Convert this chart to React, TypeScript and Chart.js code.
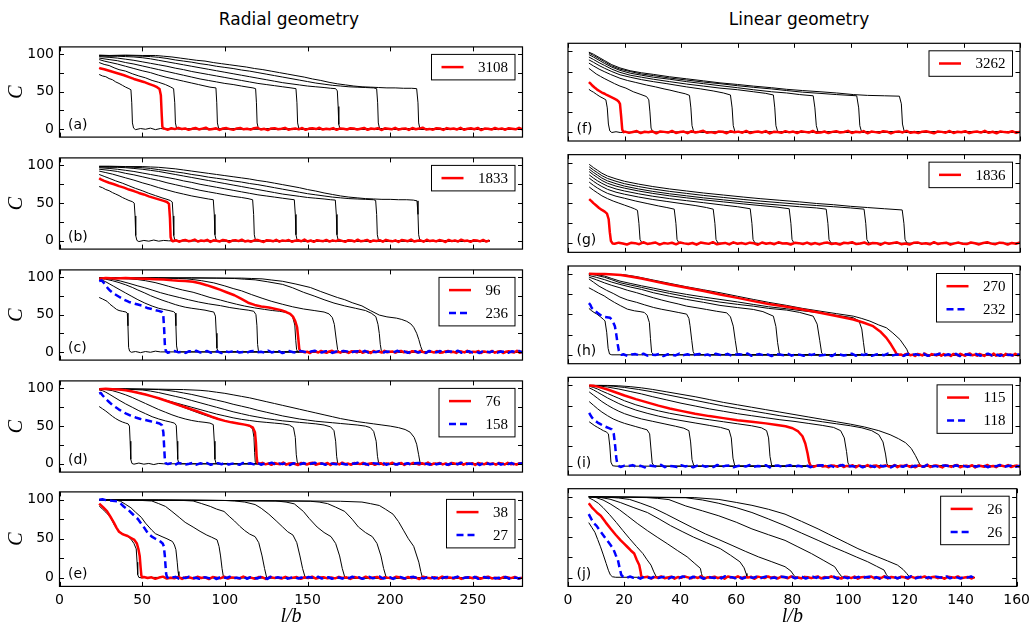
import React, { useEffect, useRef } from "react";
import { Chart, registerables } from "chart.js";

Chart.register(...registerables);
Chart.defaults.font.family = "DejaVu Sans";

type Pt = [number, number];
interface Tail { from: number; to: number; values: number[] }

// ---------- Baseline jitter after the front has passed ----------
const noise01 = [0.4,-1.1,0.9,-0.3,1.4,-0.2,0.6,-1.3,0.1,1.2,-0.7,0.4,1.6,-0.9,0,0.8,-1.4,0.5,1.1,-0.3,-1.2,0.7,1.3,-0.6,0.2,-1,0.9,1.5,-0.8,0.1,-1.5,0.6,1,-0.4,0.3,1.4,-1.1,0,0.7,-0.6,1.2,-1.3,0.4,0.9,-0.2,1.5,-0.9,0.1,-0.5,1.1,-1.2,0.6,0.2,-0.8,0.9];
const noise02 = [-0.6,0.8,-1.2,0.3,1.1,-0.5,0.2,1.6,-1,0.4,-0.3,1.3,-1.4,0.7,0,-0.9,1.2,0.5,-1.6,0.3,0.9,-0.4,1.5,-0.8,0.1,-1.2,0.6,1,-0.2,-1.5,0.8,0.3,-0.7,1.4,-1.1,0.5,-0.1,1.1,-1.3,0.2,0.7,-0.6,1.6,-0.9,0.4,-1.4,0.9,0,-0.5,1.2,-1,0.6];
const noise03 = [0.9,-0.4,0.2,-1.5,1,0.5,-0.8,1.3,-0.1,-1.2,0.7,1.6,-0.6,0.3,-1,1.1,0,-1.4,0.8,0.4,-0.7,1.5,-1.1,0.2,0.6,-1.6,1.2,-0.3,0.5,-0.9,1.4,-0.5,0.1];
const noise04 = [-1.2,0.5,1.1,-0.6,0.3,-1.4,0.9,0.2,1.5,-0.8,-0.1,1.2,-1.1,0.6,0.4,-1.6,1,-0.3,0.7,1.4,-0.9,0,-1.3,0.8,1.3,-0.5,0.2,-1,1.6,-0.7,0.4,0.9,-1.5,0.1,1.1,-0.4,-0.8,1.2,0.3,-1.2,0.6,1.5,-0.2,-0.9,1,0.5,-1.4,0.7,-0.3,1.3];
const noise05 = [0.2,1.3,-0.7,0.5,-1.4,1,0.1,-0.6,1.6,-1.1,0.4,0.8,-0.2,-1.5,1.2,0.3,-0.9,0.7,1.4,-1.3,0,0.6,-0.4,1.1,-1.6,0.9,0.2,-0.8,1.5,-0.5,0.3,-1.2,1,0.5,-0.3,1.3,-1,0.1,0.8,-1.4];
const noise06 = [-0.3,0.7,-1.5,1.2,0.4,-0.8,0.1,1.4,-1.1,0.6,-0.2,1,-1.3,0.3,0.9,-0.6,1.6,-1,0.2,0.5,-1.4,1.1,-0.1,0.8,-0.7,1.3,-1.2,0.4,0,1.5,-0.9,0.6,-0.4,1.2,-1.6,0.7,0.3,-0.5,1,-1.1,0.2,1.4,-0.8,0.5,-1.3,0.9,0.1,-0.6,1.3,-0.2];
const noise07 = [1.1,-0.2,0.6,-1.3,0.3,1.5,-0.9,0.1,-0.5,1.2,-1.4,0.8,0.4,-1,1.3,-0.3,0.7,-1.6,1,0.2,-0.7,1.4,-1.1,0.5,0,-0.8,1.6,-0.4,0.3,-1.2,0.9,0.6,-1.5,1.1,-0.1,0.4,-0.9,1.3,-0.6,0.2,1,-1.3,0.7,-0.2,1.5,-1,0.3,0.8,-0.7,0.5];
const noise08 = [-0.8,0.3,1.2,-1.1,0.6,-0.4,1.5,-0.2,0.1,-1.3,0.9,0.5,-0.7,1.1,-1.5,0.4,0.8,-0.3,1.3,-1,0.2,-0.6,1.6,-1.2,0.7,0,-0.9,1,0.3,-1.4,1.2,-0.5,0.6,-0.1,1.4,-1.1,0.2,0.9,-0.8,0.4,-1.6,1.1,0.5,-0.3,1.3,-0.9,0,0.7,-1.2,0.6];
const noise09 = [0.6,-0.9,0.2,1.3,-1.2,0.5,-0.1,1,-1.5,0.8,0.3,-0.6,1.4,-1,0.1,0.7,-1.3,1.2,-0.4,0.4,1.6,-0.8,0,-1.1,0.9,0.5,-1.4,1.1,-0.2,0.6,-0.7,1.5,-1.2,0.2,0.8,-0.5,1.3,-1.6,0.4,0.1,-0.9,1.2,-0.3,0.7,-1.1,1,0.3,-0.6,1.4,-0.8];
const noise10 = [-0.4,1,-0.1,-1.3,0.8,0.4,-0.9,1.5,-0.6,0.2,1.2,-1.4,0.5,-0.2,0.9,-1.1,1.3,0.1,-0.7,0.6,-1.5,1.1,0.3,-0.5,1.6,-1,0,0.7,-1.2,1.4,-0.3,0.5,-0.8,1,0.2,-1.6,1.2,-0.4,0.6,-0.9,1.5,-0.1,0.3,-1.3,0.8,0.4,-0.7,1.1,-1,0.5];
const noise11 = [0.5,-1.1,0.8,1.3,-0.6,0.2,-1.4,1,0.4,-0.8,1.5,-0.3,-1.2,0.9,0.1,-0.7,1.2,-1];
const noise12 = [0.7,-1.3,0.4,0.9,-0.5,1.4,-1,0.1,-0.3,1.1,-1.6,0.6,0.2,-0.8,1.5,-0.4,0.8,-1.2,0.3,1,-0.9,0.5,-1.4,1.3,0,-0.6,1.2,-1.1,0.4,0.7,-0.2,1.6,-1.3,0.1,0.9,-0.7,0.5,-1.5,1.1,0.3,-0.4,1.4,-1,0.6,0.2,-1.2,0.8,-0.1,1.3,-0.9];
const noise13 = [-0.9,0.6,1.2,-0.4,0.1,-1.3,0.9,0.4,-0.7,1.5,-1,0.3,-0.2,1.1,-1.4,0.7,0,-0.6,1.3,-1.1,0.5,0.9,-1.5,0.2,1,-0.3,-0.8,1.4,-1.2,0.6];
const noise14 = [-1,0.6,0.1,1.3,-0.7,0.4,-1.5,1,0.3,-0.4,1.6,-1.2,0.5,0,-0.9,1.2,-0.3,0.8,-1.4,0.6,1.1,-0.6,0.2,-1.1,1.5,-0.8,0.4,0.9,-1.3,0.1,0.7,-0.5,1.4,-1,0.3,-0.2,1.2,-1.6,0.6,0.9,-0.7,0.1,1.3,-1.1,0.5,-0.4,1,-1.3,0.2,0.8];
const noise15 = [0.3,0.9,-1.2,0.5,-0.2,1.4,-0.9,0.1,1.1,-1.5,0.6,-0.4,1.3,0.2,-1,0.8,-0.6,1.6,-1.3,0.4,0,1,-0.8,0.5,-1.4,1.2,0.3,-0.5,1.5,-1.1,0.7,-0.1,0.9,-1.6,1.1,0.2,-0.7,1.3,-0.3,0.6,-1.2,1,0.4,-0.9,1.4,-0.5,0.1,-1.1,0.8,0.3];
const noise16 = [-0.7,1.2,-0.3,0.6,-1.4,0.9,0.2,-1,1.5,-0.5,0.3,1.1,-1.3,0.7,-0.1,-0.8,1.4,0.4,-1.2,1,-0.4,0.6,-1.6,1.3,0.1,-0.6,0.8,-1.1,1.6,-0.2,0.5,-0.9,1.2,-1.4,0.3,0.7,-0.5,1,-1.2,0.4,1.5,-0.8,0,-1.3,0.9,0.6,-0.4,1.1,-1,0.2];

// ---------- Radial geometry, panel (a) ----------
const radialA_black: Pt[][] = [
  [[24,73],[26,71],[28,70],[30,67.5],[32,66],[34,63],[36,61],[38,58.5],[40,56],[42,54],[43.2,52.5],[43.7,35],[44.1,8],[44.8,1],[46,-1],[49,0.5],[52,-0.5],[55,1],[58,-1],[61,0.5],[64,0],[280,0]],
  [[24,89],[27,86.5],[30,85],[33,82],[36,79.5],[40,77.5],[44,74],[48,71],[52,68.5],[56,65],[60,62.5],[64,59.5],[67,56.5],[69,54],[69.7,35],[70.1,8],[70.8,1],[72,0],[280,0]],
  [[24,93],[27,91],[30,89.5],[35,87],[40,84],[45,81],[50,78],[55,75.5],[60,72],[65,69],[70,66.5],[75,64],[80,61.5],[84,59.5],[88,57.5],[91,56],[94.6,55],[95.1,35],[95.5,8],[96.2,1],[97.5,0],[280,0]],
  [[24,95],[30,93],[35,91.5],[40,89],[45,87],[50,84.5],[55,82],[60,79.5],[65,77],[70,74.5],[75,72],[80,69.5],[85,67],[90,65],[95,63],[100,61],[105,59.5],[110,57.5],[114,56],[117,55],[118.6,54],[119.1,35],[119.5,8],[120.2,1],[121.5,0],[280,0]],
  [[24,97],[30,96],[35,95],[40,93.5],[45,92],[50,90],[55,88],[60,86],[65,84],[70,81.5],[75,79.5],[80,77],[85,75],[90,73],[95,71],[100,69],[105,67],[110,65],[115,63],[120,61],[125,59.5],[130,58],[135,56.5],[140,55],[143,54],[143.6,35],[144,8],[144.7,1],[146,0],[280,0]],
  [[24,98],[30,97.5],[35,97.5],[40,97],[45,96.5],[50,95.5],[55,94],[60,92],[65,90],[70,88],[75,86],[80,84],[85,82],[90,80],[95,78],[100,76],[105,74],[110,72],[115,70],[120,68],[125,66],[130,64],[135,62],[140,60.5],[145,59],[150,57.5],[155,56.5],[160,55.5],[164,54.5],[167,54],[168,51],[168.5,30],[168.9,6],[169.6,0.5],[171,0],[280,0]],
  [[24,98.5],[30,98],[40,98.5],[50,97.5],[55,97],[60,96],[65,94.5],[70,92.5],[75,91],[80,89.5],[85,87.5],[90,86],[95,84],[100,82.5],[105,81],[110,79],[115,77.5],[120,75.5],[125,73.5],[130,71.5],[135,69.5],[140,67.5],[145,65.5],[150,63.5],[155,61.5],[160,60],[165,58.5],[170,57.5],[175,56.5],[180,56],[185,55.5],[190,55],[191.8,54],[192.4,35],[192.8,8],[193.5,1],[195,0],[280,0]],
  [[24,99],[30,98.5],[40,99],[50,98.5],[58,98.5],[63,97.5],[68,96.5],[73,95],[78,93.5],[83,92],[88,91],[93,89],[98,87.5],[103,86],[108,84.5],[113,83],[118,81],[123,79.5],[128,77.5],[133,75.5],[138,73.5],[143,71.5],[148,69.5],[153,67],[158,65],[163,62.5],[168,60.5],[173,59],[178,57.5],[183,56.5],[188,56],[193,55.5],[198,55],[203,55],[208,54.5],[213,54.5],[216,54],[216.8,35],[217.2,8],[217.9,1],[219,0],[280,0]],
];
const radialA_red: Pt[] = [[24,82],[25,81],[27,80],[30,78],[33,76],[36,74],[39,72],[42,69.5],[45,67],[48,65],[51,63],[54,60.5],[57,58],[59,56],[60.5,53.5],[61.3,45],[61.8,20],[62.2,3],[62.8,0.5]];
const radialA_redTail: Tail = { from: 63.5, to: 280, values: [...noise01, ...noise09] };

// ---------- Radial geometry, panel (b) ----------
const radialB_black: Pt[][] = [
  [[24,72],[26,70.5],[28,68],[30,66.5],[32,64],[34,62],[36,60],[38,57.5],[40,55.5],[42,53.5],[44,52],[45.2,50],[45.7,33],[46.1,7],[46.8,0.5],[48,-1],[51,0.5],[54,-0.5],[57,1],[60,-0.5],[63,0.5],[66,0],[260,0]],
  [[24,88],[27,85.5],[30,83],[34,79.5],[38,76.5],[42,73],[46,69.5],[50,66.5],[54,63],[58,60],[62,57],[65,55],[67,53.5],[68.2,51.5],[68.7,33],[69.1,7],[69.8,0.5],[71,0],[260,0]],
  [[24,92.5],[28,90.5],[32,88.5],[36,86],[40,83.5],[45,80.5],[50,77],[55,74],[60,70.5],[65,67.5],[70,64.5],[75,62],[80,59.5],[85,57.5],[90,55.5],[93,54.5],[93.6,35],[94,8],[94.7,1],[96,0],[260,0]],
  [[24,95],[30,93.5],[35,92],[40,89.5],[45,87.5],[50,85],[55,82.5],[60,80],[65,77],[70,74.5],[75,72],[80,69.5],[85,67],[90,65],[95,63],[100,61],[105,59],[110,57.5],[114,56],[116.8,54.5],[117.4,35],[117.8,8],[118.5,1],[120,0],[260,0]],
  [[24,97],[30,96],[35,95],[40,93.5],[45,92],[50,90],[55,88],[60,86],[65,84],[70,82],[75,79.5],[80,77.5],[85,75],[90,73],[95,71],[100,69],[105,67],[110,65],[115,63],[120,61],[125,59.5],[130,58],[135,56.5],[140,55],[142,54.5],[142.6,35],[143,8],[143.7,1],[145,0],[260,0]],
  [[24,98],[30,97.5],[35,97.5],[40,97],[45,96],[50,95],[55,93.5],[60,92],[65,90],[70,88],[75,86],[80,84],[85,82],[90,80],[95,78],[100,76],[105,74],[110,72],[115,70],[120,68],[125,66],[130,64],[135,62],[140,60.5],[145,59],[150,57.5],[155,56.5],[160,55.5],[164,54.5],[166.8,54],[167.4,35],[167.8,8],[168.5,1],[170,0],[260,0]],
  [[24,98.5],[30,98.5],[40,98],[45,97.5],[50,97],[55,96],[60,94.5],[65,93],[70,91.5],[75,90],[80,88],[85,86.5],[90,84.5],[95,83],[100,81.5],[105,79.5],[110,78],[115,76],[120,74.5],[125,72.5],[130,70.5],[135,68.5],[140,66.5],[145,64.5],[150,62.5],[155,61],[160,59.5],[165,58],[170,57],[175,56],[180,55.5],[185,55],[190,54.5],[191.2,53.5],[191.8,35],[192.2,8],[192.9,1],[194,0],[260,0]],
  [[24,99],[30,99],[40,98.5],[50,98.5],[55,98],[60,97.5],[65,96.5],[70,95.5],[75,94],[80,92.5],[85,91],[90,89.5],[95,88],[100,86.5],[105,85],[110,83.5],[115,82],[120,80],[125,78.5],[130,76.5],[135,74.5],[140,72.5],[145,70.5],[150,68],[155,66],[160,63.5],[165,61.5],[170,59.5],[175,58],[180,57],[185,56],[190,55.5],[195,55],[200,55],[205,54.5],[210,54.5],[214,54],[216.2,53],[216.8,35],[217.2,8],[217.9,1],[219,0],[260,0]],
];
const radialB_red: Pt[] = [[24,83],[25,81.5],[27,79.5],[30,77],[33,75],[36,72.5],[39,70.5],[42,68],[45,66],[48,63.5],[51,61.5],[54,59],[57,57],[60,55],[63,53],[65,51.5],[66.2,49],[66.8,30],[67.2,5],[67.8,0.5]];
const radialB_redTail: Tail = { from: 68.5, to: 260, values: [...noise02, ...noise10] };

// ---------- Radial geometry, panel (c) ----------
const radialC_black: Pt[][] = [
  [[24,73],[26,71],[28.7,68],[30.5,64],[32.8,60],[34.5,57],[36,55.5],[38,54.5],[40.2,53.5],[41,52],[41.4,35],[41.8,6],[42.4,1],[43.5,-0.5],[46,0.5],[49,-1],[52,0.5],[55,-0.5],[58,1],[61,0],[280,0]],
  [[24,97.5],[26,96],[28,94],[30,91.5],[32.8,88],[36,84],[40,79],[43.3,75],[47.4,70],[51.6,65.5],[56,61.5],[60,58.5],[63,57],[66.2,55.5],[69,54],[70,52],[70.4,35],[70.8,8],[71.4,1],[72.5,0],[280,0]],
  [[24,98.5],[28,97.5],[32,95.5],[36,93],[40,90],[44,86.5],[47.4,83],[51.6,79],[55,75.5],[57.8,73],[62,69.5],[66,66.5],[70,63.5],[72.4,62],[76,60],[80,58.5],[84.9,57],[88,56],[91,54.5],[93.3,53.5],[94.3,48],[94.8,25],[95.2,5],[95.9,0.5],[97,0],[280,0]],
  [[24,99],[28,98.5],[32.8,97],[37,95],[42,92],[47.4,88.5],[51.6,86],[56,83],[61,79.5],[66,76.5],[72.4,73],[78,70],[84,67],[90,64.5],[97.4,62],[103,59.5],[109,57.5],[114.1,56],[117.5,54.5],[118.8,50],[119.4,35],[119.8,10],[120.3,1.5],[121.2,0],[280,0]],
  [[24,99],[30,99],[36,98.5],[42,98],[47.4,97],[52,95.5],[57.8,93],[62,90.5],[66,88],[70,85.5],[74.5,83],[80.8,80],[86,76.5],[91,73],[97.4,69.5],[101.6,67],[107,64],[112,61.5],[118,59],[124,57],[128.7,55.5],[133,54.5],[137,53],[139.1,51],[141,47],[142.3,36],[142.9,15],[143.4,3],[144.2,0],[280,0]],
  [[24,99],[35,99.5],[45,99],[55,99.5],[65,99],[72,98.5],[77,98],[80.8,97],[86,95.5],[93.3,92.6],[100,88.5],[105,85],[110,82],[116,77],[122.5,72],[128,68],[135,63.8],[141,60.5],[147.5,57.6],[154,55.5],[160,53.5],[163,51],[165,46],[166.2,37],[167.4,16],[168.2,3],[169,0.5],[170,0],[280,0]],
  [[24,99],[40,99.5],[60,99],[80,99.5],[95,99],[105.8,98.5],[112,97.5],[118.3,96.7],[126,94],[135,90.5],[141,86],[147.5,80],[154,75],[160,70],[166,65.5],[172.5,61.7],[179,58.5],[185,55.5],[188.5,52],[191.3,47.3],[192.6,37],[193.4,24.7],[194,10],[194.6,2],[195.5,0],[280,0]],
  [[24,99.5],[40,99],[60,99.5],[80,99],[100,99],[110,99],[116,98.5],[122.5,98],[128,96.5],[135,94.7],[143,91],[151.7,86.4],[158,81],[164.2,76],[168,73],[172.5,70],[177,66],[182.9,61.7],[188,55.5],[193.4,49.4],[198,47],[203.8,45.3],[207,43.5],[210,41],[212.5,37.5],[214.2,33],[216,25],[217.3,16.5],[218.5,7],[219.4,2],[220.3,0],[280,0]],
];
const radialC_red: Pt[] = [[24,98],[28,99],[34,98.5],[40,99],[46,98.5],[52,98],[58,97.5],[63,97],[68.2,96],[72,95.5],[76,95],[80.8,94],[85,92],[89,89.5],[93.3,86.4],[97,83.5],[101,80],[105.8,76],[110,71],[114.1,66],[118,63],[122,61],[126.6,59.5],[130,58],[134,56],[137.1,53.5],[139.5,51],[141.2,47.3],[142.6,41],[143.7,33],[144.4,18],[145,4],[145.6,0.5]];
const radialC_redTail: Tail = { from: 146.5, to: 280, values: [...noise03, ...noise11, ...noise13] };
const radialC_blue: Pt[] = [[24,95],[25.5,96],[27,92],[29,86],[30.7,82],[33,78],[36,74],[39,70],[42,67],[45,65],[47.4,63.5],[50,62],[53,59],[55.8,57.6],[58,56],[60,55],[62,53.5],[62.8,48],[63.3,30],[63.7,10],[64.3,1],[65,0]];
const radialC_blueTail: Tail = { from: 65.5, to: 280, values: [...noise04, ...noise12] };

// ---------- Radial geometry, panel (d) ----------
const radialD_black: Pt[][] = [
  [[24,76],[26,73],[28,70],[30,66.5],[32,63],[34,60],[36,57.5],[38,55.5],[40,54],[41.5,53],[42.3,50],[42.7,30],[43.1,6],[43.8,0.5],[45,-0.5],[48,1],[51,-0.5],[54,0.5],[57,-1],[60,0.5],[63,0],[280,0]],
  [[24,98],[26,97],[28,95],[30,92.5],[33,88.5],[36,84.5],[40,79.5],[44,75],[48,70.5],[52,66.5],[56,62.5],[60,59.5],[64,57],[67,55.5],[69.5,54],[70.6,51],[71.1,30],[71.5,6],[72.2,0.5],[73.5,0],[280,0]],
  [[24,99],[28,98.5],[32,97],[36,94.5],[40,91.5],[44,88],[48,84],[52,80],[56,76],[60,72],[64,68.5],[68,65],[72,62],[76,59.5],[80,57.5],[84,56],[88,55],[91,54],[93,52],[93.6,30],[94,6],[94.7,0.5],[96,0],[280,0]],
  [[24,99],[30,99],[36,98.5],[42,97],[48,94.5],[54,91],[60,87],[66,82.5],[72,77.5],[78,72.5],[84,67.5],[90,63],[96,59],[102,56],[108,53.5],[112,52],[115,50],[116.8,46],[117.6,35],[118,15],[118.4,2],[119.2,0],[280,0]],
  [[24,99],[30,99],[36,98.5],[40,97.5],[45,95.5],[50,93],[55,90],[60,87],[65,84],[70,81],[75,78],[80,75],[85,72],[90,69],[95,66],[100,63.5],[105,61],[110,59],[115,57.5],[120,56],[125,55],[130,54],[135,53],[139,51.5],[141.5,48],[142.6,35],[143.2,12],[143.8,2],[145,0],[280,0]],
  [[24,99],[30,99.5],[40,99],[50,98],[55,96.5],[60,94.5],[65,92],[70,89.5],[75,87],[80,84],[85,81],[90,78],[95,75],[100,72],[105,69],[110,66.5],[115,64],[120,62],[125,60],[130,58.5],[135,57],[140,56],[145,55],[150,54],[155,53],[160,51.5],[164,49],[166,44],[167,30],[167.6,10],[168.2,1],[169.5,0],[280,0]],
  [[24,99],[40,99.5],[50,99],[60,98.5],[65,97.5],[70,96],[75,94],[80,92],[85,89.5],[90,87],[95,84.5],[100,82],[105,79],[110,76.5],[115,74],[120,71],[125,68.5],[130,66],[135,63.5],[140,61.5],[145,59.5],[150,58],[155,56.5],[160,55.5],[165,54.5],[170,53.5],[175,52.5],[180,51.5],[185,50],[188,48],[190,43],[191.5,30],[192.3,10],[193,1],[194.5,0],[280,0]],
  [[24,99.5],[40,99.5],[60,99],[75,98.5],[85,97.5],[90,96.5],[95,95],[100,93.5],[105,91.5],[110,89.5],[115,87.5],[120,85],[125,82.5],[130,80],[135,77.5],[140,75],[145,72.5],[150,70],[155,67.5],[160,65],[165,62.5],[170,60],[175,58],[180,56],[185,54.5],[190,53],[195,51.5],[200,50],[205,48],[209,45.5],[212,42],[214.5,35],[216,26],[217.2,12],[218,2],[219,0],[280,0]],
];
const radialD_red: Pt[] = [[24,99],[28,99.5],[32,99],[36,98.5],[40,97.5],[44,96],[48,94],[52,92],[56,89.5],[60,87],[64,84],[68,81],[72,78],[76,75],[80,72],[84,69],[88,66],[92,62.5],[96,59.5],[100,57],[104,55],[108,53.5],[112,52],[115,50.5],[117,48],[118.2,42],[118.8,28],[119.2,10],[119.6,2],[120.3,0]];
const radialD_redTail: Tail = { from: 121, to: 280, values: [...noise05, ...noise15] };
const radialD_blue: Pt[] = [[24,93],[25,94],[26,91],[28,86],[30,82],[32,78],[34,75],[36,72],[38,69.5],[40,67],[43,64],[46,61.5],[49,59.5],[52,58],[55,56.5],[58,55],[60.5,53.5],[62,51],[62.8,42],[63.3,22],[63.7,6],[64.3,0.5],[65,0]];
const radialD_blueTail: Tail = { from: 65.5, to: 280, values: [...noise06, ...noise14] };

// ---------- Radial geometry, panel (e) ----------
const radialE_black: Pt[][] = [
  [[24,92],[26,88],[28,84],[30.7,78],[32.8,69],[34.9,62],[37,58],[39.1,55.5],[41,53.5],[43.2,49.5],[45,44],[46.4,37],[46.9,20],[47.3,4],[48,0.5],[49.5,0],[52,0.5],[280,0]],
  [[24,100],[28,99.5],[32,99.5],[35,99],[37,97.9],[40,94],[43.2,89.7],[46,84],[49.5,77.4],[52,70],[55.8,61],[58,56.5],[62,52.7],[65,50],[68.3,46.5],[69.5,42],[70.4,36],[71.2,20],[71.7,8],[72.2,2],[73,0],[280,0]],
  [[24,100],[30,99.5],[40,99.5],[50,99],[55.8,98.4],[60,95],[64.1,91.4],[68,85],[72.4,77.4],[76,71],[80.8,65],[85,59.5],[89.1,54.7],[92,52],[95.3,48.6],[96.5,40],[97.4,28],[98.3,12],[99.1,1.5],[100,0],[280,0]],
  [[24,100],[40,99.5],[60,99.5],[75,99],[80.8,98.4],[86,95],[91.2,91.4],[95,88],[99.5,85],[103,78],[105.8,72.8],[109,66],[112,60.5],[115,56],[118.3,52.7],[120.5,45],[122.5,28],[124,12],[125.2,1],[126,0],[280,0]],
  [[24,100],[50,99.5],[80,99.5],[100,99],[105.8,98.4],[112,97],[118.3,93.8],[122,89],[126.6,81.5],[131,73],[135,65],[138,59],[141.2,54.7],[143.5,45],[145.4,28],[147,12],[148.5,1],[149.5,0],[280,0]],
  [[24,100],[60,99.5],[100,99],[120,98.5],[130.8,98.4],[137,97],[142,94.7],[147.5,85],[151,76],[155.8,65],[160,58],[164.2,52.7],[167,44],[169.4,28],[171,12],[172.5,1],[173.5,0],[280,0]],
  [[24,99.5],[60,99],[100,99],[130,98.5],[151.7,98],[157,97],[162.1,95],[167,90.5],[172.5,85],[177,75],[180.8,65],[185,58],[189.2,52.7],[192,44],[194.4,28],[196,12],[197.5,1],[198.5,0],[280,0]],
  [[24,99.5],[60,99.5],[100,99],[140,98.5],[170,98],[182.9,97],[188,95],[193.4,92.6],[197,88],[201.7,81.5],[205,72],[208,61],[211,50],[214.2,40.3],[217.3,20],[218.5,8],[219.4,1],[220.5,0],[280,0]],
];
const radialE_red: Pt[] = [[24,95],[25,93],[26.5,90],[28.7,85.5],[30.7,78.5],[32.8,71],[34.5,64],[36,59],[38,56],[41.2,53.5],[43.3,51],[45.3,48.5],[46.8,44],[47.8,36],[48.5,28],[49.1,12],[49.5,3],[50,0.5]];
const radialE_redTail: Tail = { from: 51, to: 280, values: [...noise07, ...noise16] };
const radialE_blue: Pt[] = [[24,100],[26,100.5],[28,99.5],[30,99],[32,98.5],[34.9,97.9],[37,95],[39,91],[41.2,87.7],[44,82],[47.4,75.3],[49.5,69],[51.6,63],[53.5,57],[55.8,52.7],[58,50],[61,46.5],[62.4,44],[63.1,40.3],[63.7,28],[64.1,16],[64.5,5],[65,1],[65.6,0]];
const radialE_blueTail: Tail = { from: 66, to: 280, values: [...noise08, ...noise01] };

// ---------- Linear geometry, panel (f) ----------
const linearF_black: Pt[][] = [
  [[7.4,53],[8.2,51],[9,49.5],[10,47],[11.3,44],[12.4,42],[13.4,40],[13.9,30],[14.3,10],[14.8,1.5],[15.5,-0.5],[17,0.5],[18.5,-0.5],[20,0],[160,0]],
  [[7.4,79],[8.5,76],[10,72],[11.5,69],[12.8,66.5],[14.5,63.5],[16.5,60],[18.4,57],[20.5,54.5],[23.1,50],[25.5,47],[27.8,44],[28.6,40],[29,25],[29.4,5],[30,0.5],[31,0],[160,0]],
  [[7.4,85.5],[9,82],[11,78],[12.8,75],[15,71.5],[18.4,66.7],[21,64],[24,61.5],[27.8,58.3],[31,56],[34,53.5],[36.1,52],[39,49.5],[41.5,47.5],[43,45.5],[43.5,30],[43.9,8],[44.5,0.5],[45.5,0],[160,0]],
  [[7.4,89.5],[9,86.5],[11,82.5],[13,79],[15.5,75],[18.4,71],[22,68],[26,65],[30.2,62.5],[35,60],[42,56],[47,53.5],[51.4,51],[55,48.5],[57.5,46],[58.1,30],[58.5,8],[59.1,0.5],[60,0],[160,0]],
  [[7.4,93],[9,90],[11,86],[13,82.5],[15.5,78],[18.4,74],[22,70.5],[26,68],[30.2,65.5],[36,62.5],[42,59.5],[48,57],[53.8,54.5],[60,52.5],[65.6,50],[70,48],[72.7,46],[73.2,30],[73.6,8],[74.2,0.5],[75,0],[160,0]],
  [[7.4,96],[9,93],[11,89],[13,85],[15.5,80.5],[18.4,76.5],[22,73],[26,70.5],[30.2,68],[36,65.5],[42,62.5],[48,60],[53.8,57.5],[60,55],[65.6,52.5],[72,50],[77.4,48.5],[82,46.5],[86.8,45],[87.4,30],[87.9,8],[88.5,0.5],[89.5,0],[160,0]],
  [[7.4,98],[9,95],[11,91],[13,87],[15.5,82],[18.4,78],[22,75],[26,72],[30.2,70],[36,67],[42,64.5],[48,62],[53.8,60],[60,57.5],[65.6,55.5],[72,53.5],[77.4,51.5],[83,49.5],[89.2,48],[95,46.5],[102.2,45],[102.9,30],[103.3,8],[103.9,0.5],[105,0],[160,0]],
  [[7.4,99],[9,96.5],[11,92.5],[13,88.5],[15.5,83.5],[18.4,79.5],[22,76],[26,73.5],[30.2,71.5],[36,68.5],[42,66],[48,63.5],[53.8,61],[60,59],[65.6,57],[72,55],[77.4,53],[83,51.5],[89.2,50],[95,48.5],[101,46.5],[106,45.5],[112,45],[117.3,44.5],[118,35],[118.4,10],[119,1],[120,0],[160,0]],
];
const linearF_red: Pt[] = [[7.4,62],[8,60],[8.5,58],[9.3,55.5],[10.2,53],[11.1,51],[12,49],[13,47.5],[13.7,46],[14.6,44.5],[15.5,43],[16.4,41.5],[17.2,40],[17.9,38],[18.4,35],[18.8,20],[19.2,3],[19.7,0]];
const linearF_redTail: Tail = { from: 20.2, to: 160, values: [...noise09, ...noise02] };

// ---------- Linear geometry, panel (g) ----------
const linearG_black: Pt[][] = [
  [[7.5,70],[9,66],[10.5,62.5],[12,59],[14,55.5],[16,52.5],[18,50],[20,47.5],[22,45],[23.5,43],[24.6,41],[25.1,25],[25.5,5],[26.2,0.5],[27.5,0],[160,0]],
  [[7.5,76],[9,72],[10.5,68.5],[12,65.5],[14,62],[17,58.5],[20,56],[24,52.5],[28,49.5],[32,46.5],[35,44.5],[37.6,42.5],[38.2,25],[38.6,5],[39.3,0.5],[40.5,0],[160,0]],
  [[7.5,81],[9,77],[10.5,73.5],[12,70.5],[14,67],[17,63.5],[20,61],[25,57.5],[30,54.5],[35,52],[40,49.5],[45,47],[49,44.5],[51.4,42.5],[52,25],[52.4,5],[53.1,0.5],[54.5,0],[160,0]],
  [[7.5,85],[9,81],[10.5,77.5],[12,74.5],[14,71],[17,67.5],[20,65],[25,61.5],[30,58.5],[36,55.5],[42,53],[48,50.5],[55,47.5],[60,45.5],[64.5,43],[65.1,25],[65.5,5],[66.2,0.5],[67.5,0],[160,0]],
  [[7.5,89],[9,85],[10.5,81.5],[12,78],[14,74.5],[17,71],[20,68.5],[25,65],[30,62],[36,59],[42,56.5],[48,54],[55,51.5],[62,49],[68,47],[74,45],[78.3,43],[78.9,25],[79.3,5],[80,0.5],[81.5,0],[160,0]],
  [[7.5,92],[9,88],[10.5,84.5],[12,81],[14,77.5],[17,74],[20,71],[25,67.5],[30,64.5],[36,61.5],[42,59],[48,56.5],[55,54],[62,51.5],[68,49.5],[75,47.5],[82,45.5],[88,44],[91.4,42.5],[92,25],[92.4,5],[93.1,0.5],[94.5,0],[160,0]],
  [[7.5,95],[9,91],[10.5,87.5],[12,84],[14,80.5],[17,77],[20,74],[25,70.5],[30,67.5],[36,64.5],[42,62],[48,59.5],[55,57],[62,54.5],[68,52.5],[75,50.5],[82,48.5],[88,47],[94,45.5],[100,44],[104.8,42.5],[105.4,25],[105.8,5],[106.5,0.5],[108,0],[160,0]],
  [[7.5,98],[9,94],[10.5,90.5],[12,87],[14,83.5],[17,80],[20,77],[25,73.5],[30,70.5],[36,67.5],[42,65],[48,62.5],[55,60],[62,57.5],[68,55.5],[75,53.5],[82,51.5],[88,49.5],[94,48],[100,46],[106,44.5],[112,43],[118.3,41.5],[118.9,25],[119.3,5],[120,0.5],[121.5,0],[160,0]],
];
const linearG_red: Pt[] = [[7.5,55],[8.3,52.5],[9,50],[10,47],[11,44],[12,41.5],[13,39.5],[13.8,37],[14.4,30],[14.8,14],[15.2,3],[15.8,0]];
const linearG_redTail: Tail = { from: 16.5, to: 160, values: [...noise10, ...noise04] };

// ---------- Linear geometry, panel (h) ----------
const linearH_black: Pt[][] = [
  [[7.4,57.5],[8.2,55],[9.2,52.5],[10.2,50.5],[11.5,47],[12.5,44],[13.1,42],[13.7,28],[14.2,8],[14.7,1],[15.5,0],[160,0]],
  [[7.4,83],[9,80],[10.8,76.5],[12.8,73],[14.5,69],[16.4,65],[18.5,61],[21,56.6],[23.5,54.5],[25.5,53.5],[27,52.5],[28,49],[28.8,40],[29.2,20],[29.6,3],[30.3,0],[160,0]],
  [[7.4,94],[9,90],[11,85],[13.7,79.8],[16,76],[18.4,71.5],[21,68],[24.3,65],[27,62],[30.2,58.7],[33,56.5],[36.1,54.5],[39,52.5],[42,50.4],[42.8,45],[43.2,36],[43.8,18],[44.3,4],[44.8,0.5],[45.8,0],[160,0]],
  [[7.4,96.3],[10,93],[13,89],[15.5,86],[18.4,83],[21,80],[24.3,76.9],[27,74],[30.2,70.7],[33,68],[36.1,65.3],[39,63],[42,60.3],[46,58],[49,56.2],[52.5,54],[56.2,52],[57.5,47],[58.5,35.5],[59.2,18],[59.9,2],[60.6,0],[160,0]],
  [[7.4,98.3],[10,96],[13,93],[15.5,90],[18.4,87.2],[22,84],[26,81],[30.2,76.9],[36,72.5],[42,68.6],[48,65],[53.8,61.2],[60,58.5],[65.6,56.2],[69,53.5],[72.7,47.9],[73.6,35],[74.2,15],[74.8,2],[75.5,0],[160,0]],
  [[7.4,100],[10,98.5],[13,96],[15.5,93],[18.4,89.3],[22,86.5],[26,83.5],[30.2,80.2],[36,76],[42,71.9],[48,68.5],[53.8,65.3],[60,62.5],[65.6,60.3],[71,57.5],[77.4,55.4],[82,52.5],[86.8,47.9],[88.2,38],[89.1,18],[89.8,2],[90.5,0],[160,0]],
  [[7.4,100],[10,99.5],[13,97.5],[15.5,94.5],[18.4,91.3],[22,88.5],[26,85.5],[30.2,82.6],[36,78.5],[42,74.8],[48,71.5],[53.8,68.6],[60,65.5],[65.6,62.4],[71,59.5],[77.4,57],[83,54.5],[89.2,52],[95,49],[101,45.9],[103,42],[104,32],[104.6,15],[105.1,2],[105.8,0],[160,0]],
  [[7.4,100.5],[10,100],[13,100.5],[16,99.5],[19.9,99.2],[24,97],[30.2,92.6],[36,88.5],[42,84.3],[48,80.5],[53.8,76.9],[60,72.5],[65.6,68.6],[71,65],[77.4,61.2],[83,57.5],[89.2,54.1],[95,51],[101,47.9],[104,45],[106.9,41.7],[110,37],[112.7,33.5],[115,27],[117.5,19],[119.9,7],[120.5,2],[121.1,0.5],[122,0],[160,0]],
];
const linearH_red: Pt[] = [[7.4,100.5],[10,100],[13,100],[16,99.5],[18.7,98.8],[22,97],[26,94.5],[30.2,91.3],[36,87],[42,83],[48,79],[53.8,74.8],[60,70.5],[65.6,66.5],[71,63],[77.4,59.5],[83,56],[89.2,52],[95,48],[101,43.8],[104.5,40],[108,35.5],[110.5,29],[112.7,21],[114.3,13],[115.7,5],[116.3,1],[117,0]];
const linearH_redTail: Tail = { from: 117.8, to: 160, values: [...noise11, ...noise03] };
const linearH_blue: Pt[] = [[7.4,64],[7.9,62],[8.4,58],[9.2,55.5],[10.4,52],[11.9,48.3],[13,47],[14.9,46],[15.8,42],[16.6,35.5],[17.1,25],[17.5,15],[18,5],[18.4,1.5],[19,0]];
const linearH_blueTail: Tail = { from: 19.6, to: 160, values: [...noise12, ...noise06] };

// ---------- Linear geometry, panel (i) ----------
const linearI_black: Pt[][] = [
  [[7.5,55],[8.5,52.5],[9.5,50],[10.5,48],[11.5,46],[12.5,44],[13.5,42.5],[14.3,40],[14.8,25],[15.2,5],[15.8,0.5],[17,0],[160,0]],
  [[7.5,80],[9,75.5],[10.5,71],[12,67],[14,62.5],[16,58.5],[18,55.5],[20,53],[22,51],[24,49],[26,47],[28,45],[28.9,40],[29.4,20],[29.8,4],[30.5,0],[160,0]],
  [[7.5,92],[9,88],[10.5,84],[12,80],[14,75.5],[16,71.5],[18,68],[20,65],[23,61.5],[26,58.5],[30,55.5],[34,52.5],[38,49.5],[41,47],[42.8,44],[43.4,30],[43.9,8],[44.5,1],[45.5,0],[160,0]],
  [[7.5,97],[9,94.5],[10.5,91.5],[12,88.5],[14,84.5],[16,81],[18,77.5],[20,74.5],[24,69.5],[28,65.5],[32,62],[36,59],[40,56.5],[45,53.5],[50,50.5],[54,48],[57,45],[57.8,35],[58.4,10],[59,1],[60,0],[160,0]],
  [[7.5,99],[9,97.5],[10.5,95.5],[12,93],[14,90],[16,87],[18,84],[20,81],[24,76],[28,72],[32,68.5],[36,65.5],[40,63],[45,60],[50,57.5],[55,55],[60,52.5],[65,50],[68.5,47.5],[70.3,44],[71,35],[71.5,12],[72.1,1],[73,0],[160,0]],
  [[7.5,100],[10.5,99.5],[14,98],[18,95.5],[22,92.5],[26,89.5],[30,86],[35,82],[40,78],[45,74.5],[50,71],[55,68],[60,65],[65,62.5],[70,60],[75,57.5],[80,55.5],[85,53],[90,50.5],[94,48],[96.5,44],[97.8,35],[98.6,18],[99.1,4],[99.8,0],[160,0]],
  [[7.5,100],[12,100],[16,99],[20,97.5],[25,95],[30,92],[35,88.5],[40,85],[45,81.5],[50,78],[55,74.5],[60,71.5],[65,68.5],[70,65.5],[75,62.5],[80,60],[85,57.5],[90,55],[95,52.5],[100,50],[104,47.5],[107.5,44],[110,39],[111.5,30],[112.4,15],[112.9,3],[113.6,0],[160,0]],
  [[7.5,100],[14,100],[18,99.5],[22,98.5],[26,97],[30,95],[35,92],[40,89],[45,86],[50,82.5],[55,79],[60,76],[65,73],[70,70],[75,67],[80,64],[85,61],[90,58],[95,55],[100,52],[105,48.5],[110,44],[114,39],[117,34],[119.5,29],[121.5,22],[123,13],[124,6],[124.6,1.5],[125.5,0],[160,0]],
];
const linearI_red: Pt[] = [[7.5,100],[9,99.5],[10.5,98.5],[12,97],[14,95],[16,92.5],[18,90],[20,87.5],[24,83],[28,79],[32,75],[36,71.5],[40,68.5],[45,65],[50,62],[55,59.5],[60,57],[65,55],[70,53],[74,51],[77,49.5],[79.5,47],[81.5,43],[83,37],[84,28],[84.8,16],[85.3,6],[85.7,1.5],[86.3,0]];
const linearI_redTail: Tail = { from: 87, to: 160, values: [...noise13, ...noise05] };
const linearI_blue: Pt[] = [[7.5,66],[8,63],[8.5,60],[9.5,56.5],[10.5,54],[11.5,52],[12.5,50],[13.5,48.5],[14.5,47],[15.5,45.5],[16.2,40],[16.7,25],[17.1,10],[17.5,2],[18,0]];
const linearI_blueTail: Tail = { from: 18.6, to: 160, values: [...noise14, ...noise07] };

// ---------- Linear geometry, panel (j) ----------
const linearJ_black: Pt[][] = [
  [[7.4,68],[8.5,62],[9.6,56],[10.6,47],[11.6,38],[12.6,28],[13.6,17.5],[14.4,9],[15.1,3.3],[15.8,1],[17,0.3],[145,0]],
  [[7.4,98.8],[9,96],[10.8,92],[12.5,86.6],[14.8,78],[17.2,68.3],[19.6,58],[22,48],[24.4,38.5],[26.7,29.7],[28.2,22],[29.6,15.4],[30.6,7],[31.4,1.5],[32.2,0],[145,0]],
  [[7.4,100],[10,99],[12.5,96],[15.3,90.7],[18.3,84],[21.2,76.4],[24.7,67],[28.3,58.1],[31.8,50],[35.4,41.9],[39,33.5],[42.5,25.6],[45,18],[47.2,11.4],[47.6,5],[47.9,1.5],[48.5,0],[145,0]],
  [[7.4,100],[11,99.5],[15,97],[18.8,92.7],[23.5,86.5],[28.3,80.5],[32.5,72.5],[36.6,64.2],[40.7,57],[44.8,50],[49.5,43],[54.3,35.8],[58,27.5],[61.3,19.5],[62.8,12],[63.5,5],[63.8,1.5],[64.5,0],[145,0]],
  [[7.4,100],[14,99.5],[18,98.5],[22,96.7],[26,92],[30.2,86.6],[35,78.5],[39.6,70.3],[44.3,62],[49,54],[53.8,47],[58.5,39.8],[63.2,32.5],[67.9,25.6],[72.7,19.5],[77.4,13.4],[79.5,8],[80.5,3],[81,1],[81.8,0],[145,0]],
  [[7.4,100],[20,99.5],[28,99],[32,98],[36,96.5],[42,88.6],[48,82.5],[53.8,76.4],[60,68.5],[65.6,60.2],[71.5,53],[77.4,46],[82,38],[86.8,29.7],[91,21.5],[95.1,13.4],[96.5,6],[97.5,1.5],[98.2,0],[145,0]],
  [[7.4,100],[25,99.5],[35,99],[42,98.8],[48,96],[53.8,91.9],[60,86.5],[65.6,80.5],[71.5,72.5],[77.4,64.2],[83.3,55],[89.2,46],[94,38.5],[98.7,31.7],[102.8,25.5],[106.9,19.5],[110,14],[112.7,9.3],[113.5,4],[114,1.5],[114.8,0],[145,0]],
  [[7.4,100],[30,99.5],[45,99],[53.8,96.7],[60,93],[65.6,89.4],[71.5,84.5],[77.4,78.5],[83.3,69.5],[89.2,60.2],[92.8,54],[96.3,48],[99.8,42],[103.4,35.8],[106.9,30.5],[110.4,25.6],[114,20.5],[117.5,15.4],[119.5,10],[120.8,5],[121.6,1.5],[122.5,0],[145,0]],
];
const linearJ_red: Pt[] = [[7.4,92],[8.5,87],[9.6,83],[10.6,79.5],[11.7,76.4],[13.5,68],[15.3,60.2],[17,53],[18.8,46],[20,42],[21.2,37.8],[22.4,33.5],[23.6,29.7],[24.5,22],[25.4,15.4],[25.9,7],[26.1,2],[26.6,0.5]];
const linearJ_redTail: Tail = { from: 27.3, to: 145, values: [...noise15, ...noise08] };
const linearJ_blue: Pt[] = [[7.4,78.5],[8.4,72],[9.3,67],[10.2,64],[11.6,57],[13.1,50],[14.6,43],[16.1,35.8],[17,28],[17.8,21.5],[18.4,12],[19,3.3],[19.6,1],[20.2,0]];
const linearJ_blueTail: Tail = { from: 20.8, to: 145, values: [...noise16, ...noise12] };

// ---------- Axis ticks and labels ----------
const radialXTicks = [0, 50, 100, 150, 200, 250];
const linearXTicks = [0, 20, 40, 60, 80, 100, 120, 140, 160];
const yTickValues = [0, 25, 50, 75, 100];
const yTickLabels = ["0", "", "50", "", "100"];
const columnTitles = ["Radial geometry", "Linear geometry"];

const withTail = (head: Pt[], tail?: Tail): Pt[] => {
  if (!tail) return head;
  const step = (tail.to - tail.from) / (tail.values.length - 1);
  return head.concat(tail.values.map((v, i) => [tail.from + i * step, v] as Pt));
};

interface PanelSpec {
  tag: string; col: number; row: number;
  black: Pt[][]; red: Pt[]; blue?: Pt[];
  redLabel: string; blueLabel?: string;
}

const panels: PanelSpec[] = [
  { tag: "(a)", col: 0, row: 0, black: radialA_black, red: withTail(radialA_red, radialA_redTail), redLabel: "3108" },
  { tag: "(b)", col: 0, row: 1, black: radialB_black, red: withTail(radialB_red, radialB_redTail), redLabel: "1833" },
  { tag: "(c)", col: 0, row: 2, black: radialC_black, red: withTail(radialC_red, radialC_redTail), blue: withTail(radialC_blue, radialC_blueTail), redLabel: "96", blueLabel: "236" },
  { tag: "(d)", col: 0, row: 3, black: radialD_black, red: withTail(radialD_red, radialD_redTail), blue: withTail(radialD_blue, radialD_blueTail), redLabel: "76", blueLabel: "158" },
  { tag: "(e)", col: 0, row: 4, black: radialE_black, red: withTail(radialE_red, radialE_redTail), blue: withTail(radialE_blue, radialE_blueTail), redLabel: "38", blueLabel: "27" },
  { tag: "(f)", col: 1, row: 0, black: linearF_black, red: withTail(linearF_red, linearF_redTail), redLabel: "3262" },
  { tag: "(g)", col: 1, row: 1, black: linearG_black, red: withTail(linearG_red, linearG_redTail), redLabel: "1836" },
  { tag: "(h)", col: 1, row: 2, black: linearH_black, red: withTail(linearH_red, linearH_redTail), blue: withTail(linearH_blue, linearH_blueTail), redLabel: "270", blueLabel: "232" },
  { tag: "(i)", col: 1, row: 3, black: linearI_black, red: withTail(linearI_red, linearI_redTail), blue: withTail(linearI_blue, linearI_blueTail), redLabel: "115", blueLabel: "118" },
  { tag: "(j)", col: 1, row: 4, black: linearJ_black, red: withTail(linearJ_red, linearJ_redTail), blue: withTail(linearJ_blue, linearJ_blueTail), redLabel: "26", blueLabel: "26" },
];

// ---------- Layout ----------
const COLUMNS = [
  { canvasLeft: 0, canvasWidth: 540, axisWidth: 59.5, padRight: 17.5, xMax: 280, xTicks: radialXTicks, center: 289 },
  { canvasLeft: 520, canvasWidth: 516, axisWidth: 48, padRight: 16, xMax: 160, xTicks: linearXTicks, center: 799 },
];
const ROW_TOP = 43.3;
const ROW_STEP = 111.35;
const PLOT_H = 97.7;
const PAGE_H = 627;
const TICK = 4.5;
const RED = "#ff0000";
const BLUE = "#0000ff";
const DASH = [7, 4];

const panelDecor = {
  id: "panelDecor",
  afterDraw(chart: any, _args: any, opts: any) {
    const { ctx, chartArea: a, scales } = chart;
    ctx.save();
    ctx.strokeStyle = "#000";
    ctx.lineWidth = 1;
    ctx.beginPath();
    for (const v of opts.xTicks) {
      const px = Math.round(scales.x.getPixelForValue(v)) + 0.5;
      ctx.moveTo(px, a.bottom); ctx.lineTo(px, a.bottom - TICK);
      ctx.moveTo(px, a.top); ctx.lineTo(px, a.top + TICK);
    }
    for (const v of yTickValues) {
      const py = Math.round(scales.y.getPixelForValue(v)) + 0.5;
      ctx.moveTo(a.left, py); ctx.lineTo(a.left + TICK, py);
      ctx.moveTo(a.right, py); ctx.lineTo(a.right - TICK, py);
    }
    ctx.stroke();
    ctx.lineWidth = 1.2;
    ctx.strokeRect(a.left, a.top, a.right - a.left, a.bottom - a.top);

    // panel tag
    ctx.fillStyle = "#000";
    ctx.font = '14px "DejaVu Sans"';
    ctx.textAlign = "left";
    ctx.textBaseline = "middle";
    ctx.fillText(opts.tag, a.left + 8.5, a.bottom - 12);

    // legend box
    const entries = opts.entries as { label: string; color: string; dash: number[] }[];
    ctx.font = '15px "Liberation Serif"';
    const textW = Math.max(...entries.map((e) => ctx.measureText(e.label).width));
    const w = 46.5 + textW + 7;
    const h = 25.5 + 23 * (entries.length - 1);
    const right = a.right - 7.5;
    const top = a.top + 7.5;
    const left = right - w;
    ctx.fillStyle = "#fff";
    ctx.fillRect(left, top, w, h);
    ctx.strokeStyle = "#000";
    ctx.lineWidth = 1;
    ctx.strokeRect(left, top, w, h);
    entries.forEach((e, i) => {
      const cy = top + 12.7 + i * 23;
      ctx.strokeStyle = e.color;
      ctx.lineWidth = 2.5;
      ctx.setLineDash(e.dash);
      ctx.beginPath();
      ctx.moveTo(left + 10, cy);
      ctx.lineTo(left + 32, cy);
      ctx.stroke();
      ctx.setLineDash([]);
      ctx.fillStyle = "#000";
      ctx.fillText(e.label, left + 46.5, cy + 1);
    });
    ctx.restore();
  },
};

function Panel({ spec }: { spec: PanelSpec }) {
  const ref = useRef<HTMLCanvasElement>(null);
  const col = COLUMNS[spec.col];
  const plotTop = ROW_TOP + spec.row * ROW_STEP;
  const plotBottom = plotTop + PLOT_H;
  const isBottom = spec.row === 4;
  const canvasTop = Math.floor(plotTop) - 10;
  const canvasBottom = isBottom ? PAGE_H : Math.ceil(plotBottom) + 10;
  const height = canvasBottom - canvasTop;

  useEffect(() => {
    const toXY = (pts: Pt[]) => pts.map(([x, y]) => ({ x, y }));
    const datasets: any[] = spec.black.map((c) => ({
      data: toXY(c), borderColor: "#000", borderWidth: 1, order: 3,
    }));
    datasets.push({ data: toXY(spec.red), borderColor: RED, borderWidth: 2.5, order: 2 });
    if (spec.blue) {
      datasets.push({ data: toXY(spec.blue), borderColor: BLUE, borderWidth: 2.5, borderDash: DASH, order: 1 });
    }
    const entries = [{ label: spec.redLabel, color: RED, dash: [] as number[] }];
    if (spec.blueLabel) entries.push({ label: spec.blueLabel, color: BLUE, dash: DASH });

    const chart = new Chart(ref.current as HTMLCanvasElement, {
      type: "line",
      data: { datasets },
      plugins: [panelDecor],
      options: {
        responsive: false,
        animation: false,
        events: [],
        layout: {
          padding: {
            left: 0,
            right: col.padRight,
            top: plotTop - canvasTop,
            bottom: isBottom ? 0 : canvasBottom - plotBottom,
          },
        },
        elements: {
          point: { radius: 0 },
          line: { tension: 0, borderJoinStyle: "round", fill: false },
        },
        scales: {
          x: {
            type: "linear",
            min: 0,
            max: col.xMax,
            display: isBottom,
            afterBuildTicks: (s: any) => { s.ticks = col.xTicks.map((v) => ({ value: v })); },
            afterFit: (s: any) => { if (isBottom) s.height = PAGE_H - plotBottom; },
            grid: { display: false, drawTicks: false },
            border: { display: false },
            ticks: { color: "#000", font: { family: "DejaVu Sans", size: 14 }, padding: 6, maxRotation: 0, autoSkip: false },
            title: {
              display: true, text: "l/b", color: "#000",
              font: { family: "Liberation Serif", style: "italic", size: 20, lineHeight: 1 },
              padding: { top: 0, bottom: 0 },
            },
          },
          y: {
            type: "linear",
            min: -11,
            max: 110,
            afterBuildTicks: (s: any) => { s.ticks = yTickValues.map((v) => ({ value: v })); },
            afterFit: (s: any) => { s.width = col.axisWidth; },
            grid: { display: false, drawTicks: false },
            border: { display: false },
            ticks: {
              display: spec.col === 0,
              color: "#000",
              font: { family: "DejaVu Sans", size: 14 },
              padding: 5.5,
              callback: (_v: any, i: number) => yTickLabels[i],
            },
            title: {
              display: spec.col === 0, text: "C", color: "#000",
              font: { family: "Liberation Serif", style: "italic", size: 20, lineHeight: 1 },
              padding: { top: 7, bottom: 0 },
            },
          },
        },
        plugins: {
          legend: { display: false },
          tooltip: { enabled: false },
          panelDecor: { tag: spec.tag, xTicks: col.xTicks, entries },
        } as any,
      },
    });
    return () => chart.destroy();
  }, []);

  return (
    <canvas
      ref={ref}
      width={col.canvasWidth}
      height={height}
      style={{ position: "absolute", left: col.canvasLeft, top: canvasTop, width: col.canvasWidth, height }}
    />
  );
}

export default function App() {
  return (
    <div style={{ position: "absolute", left: 0, top: 0, width: 1036, height: PAGE_H, background: "#fff", overflow: "hidden" }}>
      {columnTitles.map((t, i) => (
        <div
          key={t}
          style={{
            position: "absolute", left: COLUMNS[i].center - 200, width: 400, top: 9,
            textAlign: "center", font: '17px "DejaVu Sans"', lineHeight: "20px", color: "#000",
          }}
        >
          {t}
        </div>
      ))}
      {panels.map((p) => <Panel key={p.tag} spec={p} />)}
    </div>
  );
}
